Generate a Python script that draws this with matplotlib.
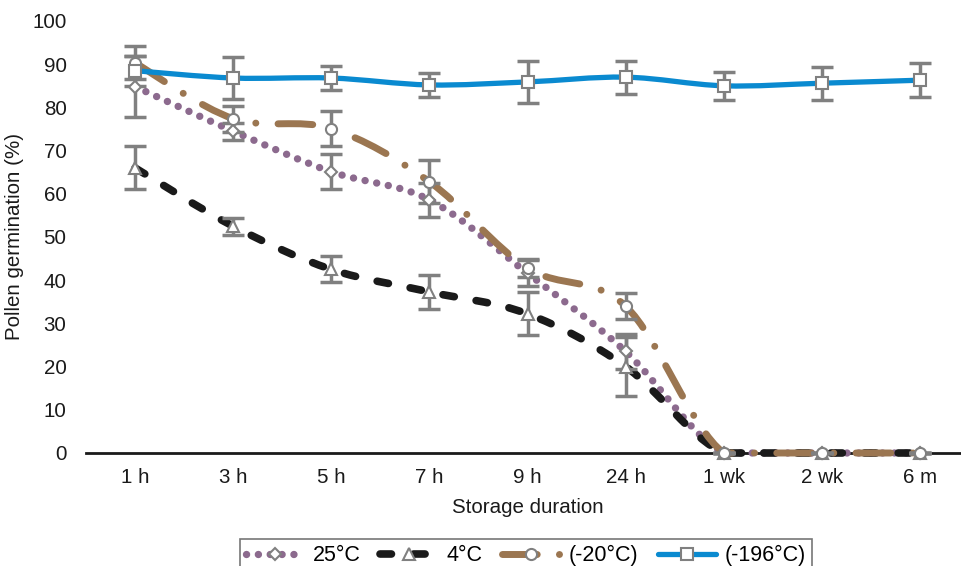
import numpy as np
import matplotlib
matplotlib.use("Agg")
import matplotlib.pyplot as plt
from matplotlib.path import Path
from matplotlib.patches import PathPatch
from matplotlib.lines import Line2D

categories = ["1 h", "3 h", "5 h", "7 h", "9 h", "24 h", "1 wk", "2 wk", "6 m"]

t25 = [84.8, 74.5, 65.1, 58.6, 41.6, 23.5, 0, 0, 0]
t25_err = [7.0, 2.0, 4.0, 4.0, 3.0, 4.0, 0, 0, 0]

t4 = [66.0, 52.5, 42.5, 37.3, 32.2, 20.0, 0, 0, 0]
t4_err = [5.0, 2.0, 3.0, 4.0, 5.0, 6.8, 0, 0, 0]

tm20 = [90.3, 77.4, 75.1, 62.8, 42.8, 34.0, 0, 0, 0]
tm20_err = [3.8, 3.0, 4.0, 5.0, 2.0, 3.0, 0, 0, 0]

tm196 = [88.5, 86.8, 86.8, 85.2, 85.9, 87.0, 85.0, 85.6, 86.3]
tm196_err = [3.5, 4.9, 2.8, 2.8, 4.8, 3.8, 3.2, 3.8, 3.9]

labels = ["25°C", "4°C", "(-20°C)", "(-196°C)"]

plt.rcParams['font.family'] = ['Liberation Sans', 'DejaVu Sans']

fig = plt.figure(figsize=(9.61, 5.66), dpi=100)
ax = fig.add_axes([86/961, (566-453)/566, 883/961, 432/566])

x = np.arange(len(categories))

def smooth_path(xs, ys):
    xs = np.asarray(xs, float); ys = np.asarray(ys, float)
    n = len(xs)
    verts = [(xs[0], ys[0])]
    codes = [Path.MOVETO]
    for i in range(n - 1):
        p0 = (xs[i-1], ys[i-1]) if i > 0 else (xs[i], ys[i])
        p1 = (xs[i], ys[i]); p2 = (xs[i+1], ys[i+1])
        p3 = (xs[i+2], ys[i+2]) if i + 2 < n else p2
        c1 = (p1[0] + (p2[0]-p0[0])/6, max(0, p1[1] + (p2[1]-p0[1])/6))
        c2 = (p2[0] - (p3[0]-p1[0])/6, max(0, p2[1] - (p3[1]-p1[1])/6))
        verts += [c1, c2, p2]
        codes += [Path.CURVE4]*3
    return Path(verts, codes)

gray = "#808080"
styles = [
    dict(data=t25, err=t25_err, color="#8c6a8e", ls=(0, (0.01, 1.6)), lw=5.3, marker="D", ms=6),
    dict(data=t4, err=t4_err, color="#1a1a1a", ls=(0, (1.5, 2.9)), lw=5.5, marker="^", ms=8),
    dict(data=tm20, err=tm20_err, color="#9b7651", ls=(0, (5.0, 3.2, 0.01, 3.2)), lw=5.0, marker="o", ms=8),
    dict(data=tm196, err=tm196_err, color="#0a8ad0", ls="-", lw=3.8, marker="s", ms=8),
]

handles = []
for s, lab in zip(styles, labels):
    patch = PathPatch(smooth_path(x, s["data"]), facecolor="none", edgecolor=s["color"],
                      lw=s["lw"], linestyle=s["ls"], clip_on=False, zorder=3)
    patch.set_capstyle("round")
    ax.add_patch(patch)
    handles.append(Line2D([], [], color=s["color"], lw=s["lw"], linestyle=s["ls"],
                          dash_capstyle="round", solid_capstyle="round",
                          marker=s["marker"], ms=s["ms"], mfc="white", mec=gray, mew=1.5))

for s in styles:
    ax.errorbar(x, s["data"], yerr=s["err"], fmt="none", ecolor=gray, elinewidth=2.5,
                capsize=8, capthick=2.5, zorder=4, clip_on=False)
for s in styles:
    ax.plot(x, s["data"], linestyle="none", marker=s["marker"], ms=s["ms"], mfc="white",
            mec=gray, mew=1.5, zorder=5, clip_on=False)

ax.set_xlim(-0.5, len(categories) - 0.5)
ax.set_ylim(0, 100)
ax.set_yticks(np.arange(0, 101, 10))
ax.set_xticks(x)
ax.set_xticklabels(categories)
ax.tick_params(axis="both", length=0, labelsize=14.8, colors="#1a1a1a")
ax.tick_params(axis="y", pad=14)
ax.tick_params(axis="x", pad=11)
for sp in ["top", "right", "left"]:
    ax.spines[sp].set_visible(False)
ax.spines["bottom"].set_color("#1a1a1a")
ax.spines["bottom"].set_linewidth(2)
ax.spines["bottom"].set_zorder(2)

ax.set_ylabel("Pollen germination (%)", fontsize=14.8, color="#1a1a1a", labelpad=6)
ax.set_xlabel("Storage duration", fontsize=14.8, color="#1a1a1a", labelpad=8)

leg = fig.legend(handles=handles, labels=labels, loc="upper center",
                 bbox_to_anchor=(526/961, 1 - 528/566), ncol=4, frameon=True,
                 fontsize=15.5, handlelength=2.7, columnspacing=0.9, handletextpad=0.4,
                 borderpad=0.3, fancybox=False, numpoints=1)
leg.get_frame().set_edgecolor("#555555")
leg.get_frame().set_linewidth(1.2)

fig.savefig("out.png", dpi=100)
